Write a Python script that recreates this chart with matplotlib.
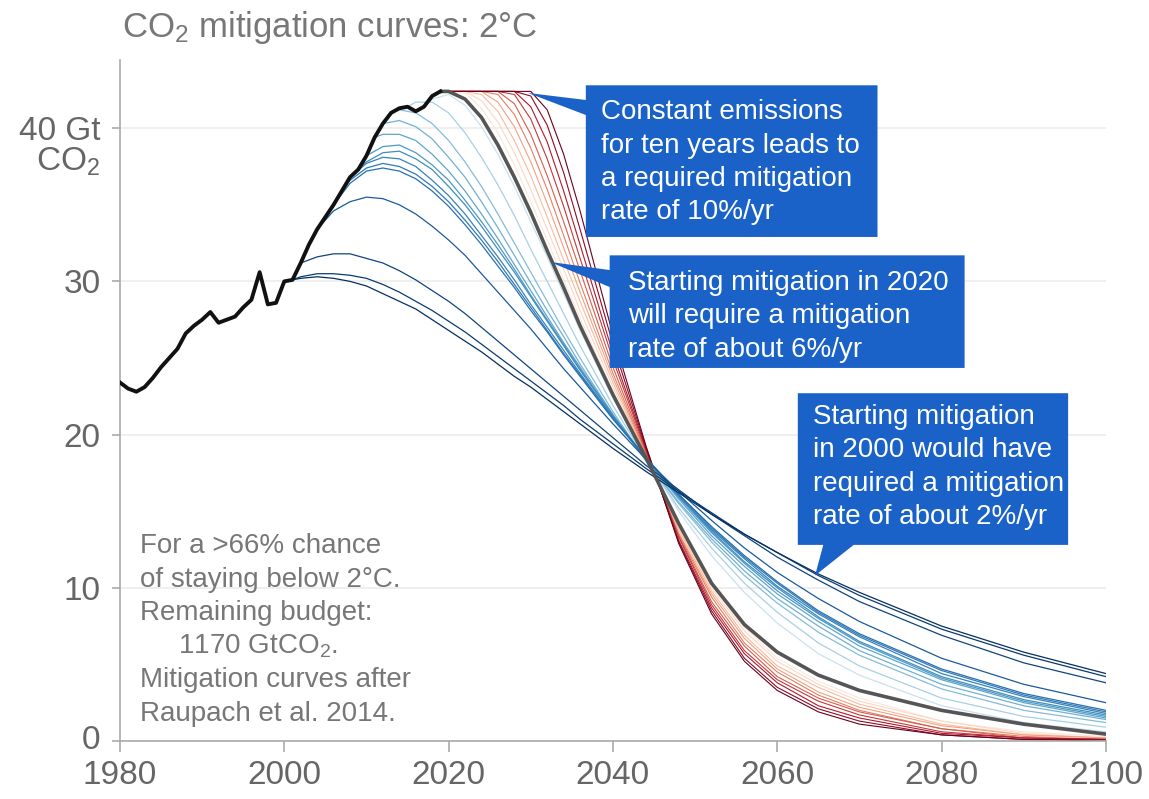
import matplotlib
matplotlib.use("Agg")
import matplotlib.pyplot as plt
from matplotlib.patches import Polygon

plt.rcParams['font.family'] = ['Liberation Sans', 'DejaVu Sans']
plt.rcParams['mathtext.fontset'] = 'custom'
plt.rcParams['mathtext.rm'] = 'Liberation Sans'
plt.rcParams['mathtext.it'] = 'Liberation Sans:italic'

# historical emissions (GtCO2 per year)
hist_years = list(range(1980, 2020))
hist_vals = [23.4, 23.0, 22.8, 23.1, 23.7, 24.4, 25.0, 25.6, 26.6, 27.1,
             27.5, 28.0, 27.3, 27.5, 27.7, 28.3, 28.8, 30.6, 28.5, 28.6,
             30.0, 30.1, 31.2, 32.4, 33.4, 34.2, 35.0, 35.9, 36.8, 37.3,
             38.2, 39.4, 40.3, 41.0, 41.3, 41.4, 41.1, 41.4, 42.1, 42.4]

# years at which the mitigation curves are given (each curve fills the last n of them)
years = list(range(2000, 2037, 2)) + [2040, 2044, 2048, 2052, 2056, 2060, 2065, 2070, 2080, 2090, 2100]

# mitigation starting before 2020
blue_starts = [2000, 2001, 2002, 2004, 2006, 2007, 2008, 2009, 2010, 2011, 2012, 2013, 2015, 2017]
blue_curves = [
    [30.0, 30.2, 30.3, 30.2, 30.0, 29.7, 29.2, 28.7, 28.2, 27.5, 26.8, 26.1, 25.4, 24.6, 23.8, 23.1, 22.3, 21.5, 20.7,
     19.1, 17.6, 16.2, 14.8, 13.5, 12.3, 10.9, 9.7, 7.5, 5.8, 4.4],
    [30.3, 30.5, 30.5, 30.4, 30.2, 29.8, 29.3, 28.7, 28.1, 27.4, 26.7, 25.9, 25.1, 24.3, 23.5, 22.7, 21.9, 21.0,
     19.4, 17.8, 16.3, 14.9, 13.5, 12.3, 10.8, 9.5, 7.3, 5.6, 4.2],
    [31.2, 31.6, 31.8, 31.8, 31.5, 31.2, 30.7, 30.1, 29.4, 28.7, 27.9, 27.0, 26.1, 25.2, 24.3, 23.4, 22.5, 21.6,
     19.8, 18.0, 16.4, 14.8, 13.4, 12.0, 10.5, 9.1, 6.9, 5.1, 3.8],
    [33.4, 34.6, 35.2, 35.5, 35.4, 35.0, 34.4, 33.6, 32.7, 31.7, 30.5, 29.3, 28.1, 26.9, 25.6, 24.3, 23.1,
     20.7, 18.4, 16.3, 14.4, 12.6, 11.0, 9.3, 7.8, 5.4, 3.7, 2.5],
    [35.0, 36.4, 37.2, 37.4, 37.2, 36.7, 35.9, 34.9, 33.7, 32.4, 31.0, 29.6, 28.1, 26.7, 25.2, 23.8,
     21.0, 18.5, 16.1, 14.0, 12.1, 10.4, 8.5, 7.0, 4.7, 3.1, 2.0],
    [36.6, 37.4, 37.7, 37.5, 37.0, 36.2, 35.2, 34.0, 32.7, 31.3, 29.8, 28.3, 26.8, 25.3, 23.9,
     21.1, 18.5, 16.1, 13.9, 12.0, 10.3, 8.4, 6.9, 4.6, 3.0, 1.9],
    [36.8, 37.7, 38.1, 38.0, 37.5, 36.6, 35.6, 34.4, 33.0, 31.6, 30.1, 28.5, 27.0, 25.5, 24.0,
     21.1, 18.4, 16.0, 13.8, 11.9, 10.1, 8.3, 6.8, 4.4, 2.9, 1.8],
    [37.8, 38.4, 38.5, 38.0, 37.3, 36.2, 35.0, 33.6, 32.1, 30.6, 29.0, 27.4, 25.8, 24.2,
     21.2, 18.5, 16.0, 13.7, 11.7, 10.0, 8.1, 6.5, 4.2, 2.7, 1.7],
    [38.2, 38.8, 38.9, 38.4, 37.6, 36.6, 35.3, 33.9, 32.4, 30.8, 29.1, 27.5, 25.9, 24.3,
     21.3, 18.4, 15.9, 13.6, 11.6, 9.8, 8.0, 6.4, 4.1, 2.6, 1.6],
    [39.6, 39.6, 39.2, 38.3, 37.2, 35.9, 34.4, 32.8, 31.1, 29.4, 27.7, 26.0, 24.4,
     21.2, 18.4, 15.8, 13.4, 11.4, 9.6, 7.8, 6.2, 4.0, 2.5, 1.5],
    [40.3, 40.5, 40.1, 39.3, 38.1, 36.8, 35.2, 33.5, 31.7, 29.9, 28.1, 26.4, 24.6,
     21.3, 18.3, 15.6, 13.2, 11.1, 9.3, 7.5, 5.9, 3.7, 2.3, 1.4],
    [41.2, 41.0, 40.3, 39.2, 37.8, 36.2, 34.4, 32.5, 30.6, 28.7, 26.8, 25.0,
     21.5, 18.3, 15.5, 13.0, 10.8, 9.0, 7.1, 5.6, 3.4, 2.0, 1.2],
    [41.7, 41.7, 41.0, 39.7, 38.1, 36.3, 34.3, 32.1, 30.0, 27.9, 25.8,
     21.9, 18.4, 15.2, 12.6, 10.3, 8.4, 6.4, 4.9, 2.8, 1.6, 0.9],
    [41.9, 42.2, 41.5, 40.1, 38.3, 36.2, 33.9, 31.6, 29.2, 26.8,
     22.4, 18.5, 15.0, 12.1, 9.7, 7.7, 5.7, 4.3, 2.3, 1.2, 0.6],
]

# mitigation starting in 2020
gray_curve = [42.4, 41.9, 40.7, 38.9, 36.8, 34.5, 32.0, 29.6, 27.1,
              22.6, 18.5, 14.2, 10.3, 7.6, 5.8, 4.3, 3.3, 2.0, 1.1, 0.45]

# constant emissions, then mitigation starting later
red_starts = [2021, 2022, 2023, 2024, 2025, 2026, 2027, 2028, 2029, 2030]
red_curves = [
    [42.4, 42.3, 41.3, 39.7, 37.6, 35.2, 32.7, 30.1, 27.6, 22.8, 18.5, 14.0, 10.2, 7.4, 5.4, 3.9, 2.8, 1.3, 0.6, 0.3],
    [42.4, 42.4, 41.8, 40.4, 38.4, 36.0, 33.4, 30.8, 28.1, 23.1, 18.6, 13.9, 10.0, 7.2, 5.2, 3.7, 2.6, 1.3, 0.5, 0.2],
    [42.4, 42.4, 42.2, 41.1, 39.2, 36.9, 34.2, 31.4, 28.7, 23.4, 18.6, 13.8, 9.8, 6.9, 4.9, 3.5, 2.4, 1.1, 0.4, 0.2],
    [42.4, 42.4, 42.4, 41.7, 40.1, 37.8, 35.1, 32.2, 29.3, 23.7, 18.7, 13.6, 9.6, 6.7, 4.7, 3.2, 2.2, 1.0, 0.4, 0.2],
    [42.4, 42.4, 42.4, 42.2, 40.9, 38.7, 36.0, 33.0, 29.9, 24.0, 18.8, 13.5, 9.4, 6.4, 4.5, 3.0, 2.0, 0.8, 0.3, 0.1],
    [42.4, 42.4, 42.4, 42.4, 41.6, 39.6, 36.9, 33.9, 30.7, 24.4, 18.9, 13.4, 9.1, 6.2, 4.2, 2.8, 1.9, 0.8, 0.2, 0.1],
    [42.4, 42.4, 42.4, 42.4, 42.2, 40.6, 38.0, 34.9, 31.5, 24.9, 19.0, 13.3, 8.9, 5.9, 4.0, 2.6, 1.7, 0.6, 0.2, 0.1],
    [42.4, 42.4, 42.4, 42.4, 42.4, 41.4, 39.1, 35.9, 32.4, 25.3, 19.1, 13.1, 8.7, 5.7, 3.8, 2.3, 1.5, 0.5, 0.2, 0.1],
    [42.4, 42.4, 42.4, 42.4, 42.4, 42.1, 40.2, 37.1, 33.4, 25.9, 19.2, 13.0, 8.5, 5.4, 3.5, 2.1, 1.3, 0.4, 0.1, 0.1],
    [42.4, 42.4, 42.4, 42.4, 42.4, 42.4, 41.2, 38.3, 34.6, 26.5, 19.3, 12.9, 8.3, 5.2, 3.3, 1.9, 1.1, 0.4, 0.1, 0.0],
]

notes = ["For a >66% chance", "of staying below 2°C.", "Remaining budget:",
         "     1170 GtCO$_2$.", "Mitigation curves after", "Raupach et al. 2014."]
box1_lines = ["Constant emissions", "for ten years leads to", "a required mitigation", "rate of 10%/yr"]
box2_lines = ["Starting mitigation in 2020", "will require a mitigation", "rate of about 6%/yr"]
box3_lines = ["Starting mitigation", "in 2000 would have", "required a mitigation", "rate of about 2%/yr"]

hist = dict(zip(hist_years, hist_vals))
cmap = plt.get_cmap('RdBu')
GREY_TXT = '#777777'
BOX = '#1a62c8'

fig = plt.figure(figsize=(11.49, 7.99), dpi=100)
ax = fig.add_axes([0.1044, 0.0726, 0.8581, 0.8523])

# red: constant emissions until the start year, light to dark
for s, vals in zip(red_starts, red_curves):
    xs = [hist_years[-1]] + years[-len(vals):]
    ys = [hist_vals[-1]] + vals
    c = 0.44 - 0.44 * (s - 2021) / 9
    ax.plot(xs, ys, color=cmap(c), lw=0.8, zorder=2)

# blue: earlier starts, lightest first so dark lines sit on top
for s, vals in reversed(list(zip(blue_starts, blue_curves))):
    xs = years[-len(vals):]
    ys = list(vals)
    if s < xs[0]:
        xs = [s] + xs
        ys = [hist[s]] + ys
    c = 0.5 + 0.5 * ((2020 - s) / 20) ** 0.8
    ax.plot(xs, ys, color=cmap(c), lw=0.9, zorder=3)

ax.plot([hist_years[-1]] + years[-len(gray_curve):], [hist_vals[-1]] + gray_curve,
        color='#555555', lw=2.6, zorder=4, solid_capstyle='round')
ax.plot(hist_years, hist_vals, color='#111111', lw=2.8, zorder=5, solid_joinstyle='round')

ax.set_xlim(1980, 2100)
ax.set_ylim(0, 44.45)
ax.set_xticks(range(1980, 2101, 20))
ax.set_yticks([0, 10, 20, 30, 40])
ax.set_yticklabels(['0', '10', '20', '30', '40 Gt'])
ax.tick_params(axis='both', color='#aaaaaa', labelcolor='#666666', labelsize=24, width=1.2)
ax.tick_params(axis='x', length=8, pad=6)
ax.tick_params(axis='y', length=6, pad=8)
for side in ['top', 'right']:
    ax.spines[side].set_visible(False)
for side in ['left', 'bottom']:
    ax.spines[side].set_color('#aaaaaa')
    ax.spines[side].set_linewidth(1.2)
ax.yaxis.grid(True, color='#ececec', lw=1.2)
ax.set_axisbelow(True)
# centre the "0" on its box so it sits a touch higher, clear of the 1980 label
ax.get_yticklabels()[0].set_verticalalignment('center')

ax.annotate('CO$_2$', xy=(0, 40), xycoords=('axes fraction', 'data'), xytext=(-14, -24),
            textcoords='offset points', ha='right', va='center', fontsize=24, color='#666666')
fig.text(0.1062, 0.9537, 'CO$_2$ mitigation curves: 2°C', fontsize=25, color=GREY_TXT,
         ha='left', va='baseline')

# budget notes
for i, line in enumerate(notes):
    ax.text(1982.4, 12.27 - i * 2.19, line, fontsize=20, color=GREY_TXT, va='baseline', zorder=6)

# callout boxes
box1 = [(2036.7, 42.8), (2072.2, 42.8), (2072.2, 32.9), (2036.7, 32.9), (2036.7, 40.86),
        (2029.65, 42.3), (2036.7, 41.84)]
box2 = [(2039.6, 31.7), (2082.8, 31.7), (2082.8, 24.35), (2039.6, 24.35), (2039.6, 29.63),
        (2032.33, 31.27), (2039.6, 30.74)]
box3 = [(2062.5, 22.7), (2095.4, 22.7), (2095.4, 12.8), (2069.3, 12.8), (2064.6, 10.8),
        (2065.6, 12.8), (2062.5, 12.8)]
for pts in [box1, box2, box3]:
    ax.add_patch(Polygon(pts, closed=True, facecolor=BOX, edgecolor='none', zorder=7))

for lines, x0, y0 in [(box1_lines, 2038.6, 40.58), (box2_lines, 2041.8, 29.44), (box3_lines, 2064.3, 20.69)]:
    for i, line in enumerate(lines):
        ax.text(x0, y0 - i * 2.18, line, fontsize=20, color='white', va='baseline', zorder=8)

fig.savefig('out.png')
